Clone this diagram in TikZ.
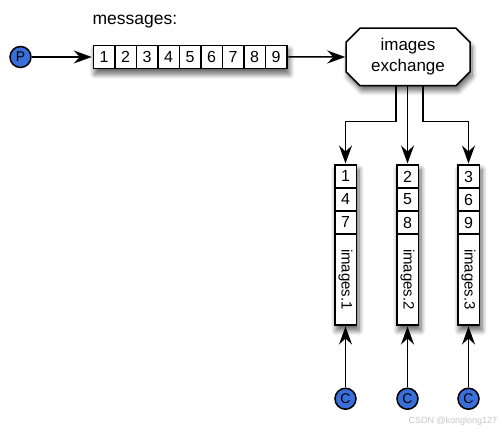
\documentclass[tikz,border=0pt]{standalone}
\usepackage{fontspec}
\setsansfont{Liberation Sans}
\usetikzlibrary{matrix, positioning, calc, shapes.misc, arrows.meta, shadows.blur}
\definecolor{clientblue}{RGB}{58,110,216}

\begin{document}
\begin{tikzpicture}[
    x=1pt, y=1pt, line width=1.5pt,
    cell/.style={draw, fill=white, minimum width=21.5pt, minimum height=23pt, inner sep=0pt, anchor=center, font=\sffamily\fontsize{16}{18}\selectfont},
    longcell/.style={cell, minimum height=91pt, font=\sffamily\fontsize{15}{17}\selectfont},
    boxshadow/.style={blur shadow={shadow xshift=2pt, shadow yshift=-5pt, shadow opacity=60, shadow blur radius=5pt, shadow blur steps=8}},
    queue/.style={matrix of nodes, nodes={cell}, inner sep=0pt, column sep=-\pgflinewidth, row sep=-\pgflinewidth, boxshadow},
    client/.style={circle, draw, fill=clientblue, minimum size=21pt, inner sep=0pt, font=\sffamily\fontsize{14}{14}\selectfont},
    exchange/.style={chamfered rectangle, chamfered rectangle xsep=7pt, chamfered rectangle ysep=7pt, draw, fill=white,
        minimum width=124pt, minimum height=53pt, align=center, font=\sffamily\fontsize{17}{21}\selectfont, boxshadow},
    arrow/.style={-{Stealth[length=18pt, width=13pt, inset=6pt]}}
]
\useasboundingbox (0,0) rectangle (502,435);

% Message queue
\matrix (msgs) [queue] at (190,378) {
    1 & 2 & 3 & 4 & 5 & 6 & 7 & 8 & 9 \\
};
\node[above right=15pt and 0pt of msgs.north west, inner sep=0pt, font=\sffamily\fontsize{17.5}{20}\selectfont] (msglabel) {messages:};

% Producer and exchange
\node[client, left=60pt of msgs] (prod) {P};
\node[exchange, right=57pt of msgs] (exch) {images\\exchange};
\draw[arrow] (prod) -- (msgs);
\draw[arrow] (msgs) -- (exch);

% Queues and consumers
\foreach \n/\x/\a/\b/\c in {1/345.5/1/4/7, 2/407.5/2/5/8, 3/468.5/3/6/9} {
    \matrix (q\n) [queue] at (\x,190) {
        \a \\ \b \\ \c \\ |[longcell]| \rotatebox{-90}{images.\n} \\
    };
    \node[client, below=61pt of q\n] (cons\n) {C};
    \draw[arrow] (cons\n) -- (q\n);
}

% Bindings
\draw[arrow] ($(exch.south)+(-12,0)$) |- ($(q1.north)+(0,42)$) -- (q1.north);
\draw[arrow] (exch.south -| q2.north) -- (q2.north);
\draw[arrow] ($(exch.south)+(15,0)$) |- ($(q3.north)+(0,42)$) -- (q3.north);

\node[anchor=south east, inner sep=0pt, text=gray!45, font=\sffamily\fontsize{9}{9}\selectfont] (mark) at (498,9) {CSDN @konglong127};
\end{tikzpicture}
\end{document}
